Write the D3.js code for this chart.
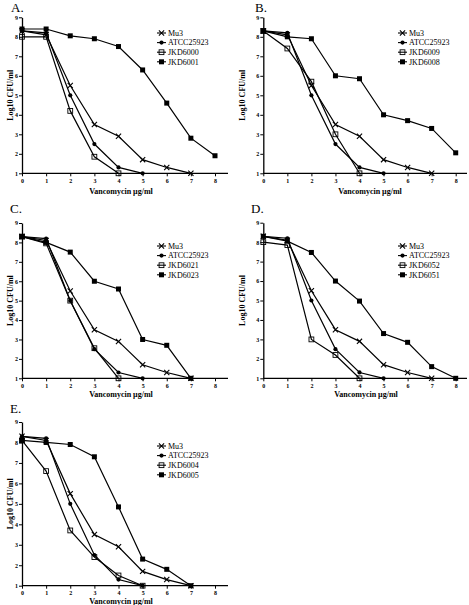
<!DOCTYPE html>
<html><head><meta charset="utf-8">
<script src="https://cdn.jsdelivr.net/npm/d3@7"></script>
<style>body{margin:0;background:#fff}svg{display:block}text{fill:#000}</style>
</head><body>
<svg id="c" width="469" height="605"></svg>
<script>
const doses = [0,1,2,3,4,5,6,7,8];
const yTicks = [1,2,3,4,5,6,7,8,9];
const seriesNames = ["Mu3","ATCC25923"];
const mu3 = [8.3,8.1,5.5,3.5,2.9,1.7,1.3,1.0];
const atcc = [8.3,8.2,5.0,2.5,1.3,1.0];
const panelTitles = ["A.","B.","C.","D.","E."];
const openNames = ["JKD6000","JKD6009","JKD6021","JKD6052","JKD6004"];
const filledNames = ["JKD6001","JKD6008","JKD6023","JKD6051","JKD6005"];
const openA = [8.0,8.0,4.2,1.85,1.0];
const filledA = [8.4,8.4,8.05,7.9,7.5,6.3,4.6,2.8,1.9];
const openB = [8.3,7.4,5.7,3.0,1.0];
const filledB = [8.3,8.0,7.9,6.0,5.85,4.0,3.7,3.3,2.05];
const openC = [8.3,7.95,5.0,2.55,1.0];
const filledC = [8.3,8.0,7.5,6.0,5.6,3.0,2.7,1.0];
const openD = [8.0,7.85,3.0,2.2,1.0];
const filledD = [8.3,8.05,7.47,6.0,4.97,3.3,2.85,1.6,1.0];
const openE = [8.1,6.6,3.7,2.4,1.5,1.0];
const filledE = [8.1,8.0,7.9,7.3,4.85,2.3,1.8,1.0];
const openVals = [openA,openB,openC,openD,openE];
const filledVals = [filledA,filledB,filledC,filledD,filledE];

// layout per panel
const layout = [
 {x0:22, x8:215, xe:228, y9:17.3, y1:173.3, tx:11, ty:12, lx:157, ly:33, xlx:121, xly:194, ylx:13},
 {x0:263.3, x8:455.7, xe:467, y9:17.3, y1:173.3, tx:255, ty:12, lx:398, ly:33, xlx:370, xly:194, ylx:245},
 {x0:22, x8:215, xe:228, y9:223, y1:378.3, tx:10, ty:213, lx:157, ly:246, xlx:121, xly:397, ylx:13},
 {x0:263.3, x8:455.7, xe:467, y9:222.7, y1:378.3, tx:251, ty:213, lx:398, ly:246, xlx:366, xly:397, ylx:245},
 {x0:22, x8:215, xe:228, y9:422, y1:585.7, tx:10, ty:413, lx:157, ly:446, xlx:121, xly:604, ylx:13}
];

const svg = d3.select("#c");
const FONT = "'Liberation Serif','Times New Roman',serif";

function marker(g, type, x, y){
  if(type==="x"){
    const s=2.6;
    g.append("path").attr("d",`M${x-s},${y-s}L${x+s},${y+s}M${x-s},${y+s}L${x+s},${y-s}`)
      .attr("stroke","#000").attr("stroke-width",1.1).attr("fill","none");
  } else if(type==="dot"){
    g.append("circle").attr("cx",x).attr("cy",y).attr("r",2.1).attr("fill","#000");
  } else if(type==="open"){
    g.append("rect").attr("x",x-2.4).attr("y",y-2.4).attr("width",4.8).attr("height",4.8)
      .attr("fill","none").attr("stroke","#000").attr("stroke-width",0.9);
  } else {
    g.append("rect").attr("x",x-2.5).attr("y",y-2.5).attr("width",5).attr("height",5).attr("fill","#000");
  }
}

layout.forEach((L,i)=>{
  const g = svg.append("g");
  const x = d3.scaleLinear().domain([0,8]).range([L.x0,L.x8]);
  const y = d3.scaleLinear().domain([1,9]).range([L.y1,L.y9]);

  const xa = g.append("g").attr("transform",`translate(0,${L.y1})`)
    .call(d3.axisBottom(x).tickValues(doses).tickSize(3).tickSizeOuter(0).tickPadding(2));
  xa.select(".domain").remove();
  xa.append("line").attr("x1",L.x0).attr("x2",L.xe).attr("y1",0).attr("y2",0).attr("stroke","#000").attr("stroke-width",1.3);
  const ya = g.append("g").attr("transform",`translate(${L.x0},0)`)
    .call(d3.axisLeft(y).tickValues(yTicks).tickSize(3).tickSizeOuter(0).tickPadding(1));
  ya.select(".domain").attr("stroke-width",1.3);
  g.selectAll(".tick text").attr("font-family",FONT).attr("font-size",6).attr("font-weight","bold").attr("fill","#000");
  g.selectAll(".tick line").attr("stroke","#000");

  // labels
  g.append("text").attr("x",L.tx).attr("y",L.ty).text(panelTitles[i])
    .attr("font-family",FONT).attr("font-size",13).attr("fill","#000");
  g.append("text").attr("x",L.xlx).attr("y",L.xly).attr("text-anchor","middle").text("Vancomycin µg/ml")
    .attr("font-family",FONT).attr("font-size",8).attr("font-weight","bold").attr("fill","#000");
  g.append("text").attr("transform",`translate(${L.ylx},${(L.y1+L.y9)/2}) rotate(-90)`).attr("text-anchor","middle")
    .text("Log10 CFU/ml").attr("font-family",FONT).attr("font-size",8).attr("font-weight","bold").attr("fill","#000");

  const series = [
    {name:seriesNames[0], vals:mu3, type:"x"},
    {name:seriesNames[1], vals:atcc, type:"dot"},
    {name:openNames[i], vals:openVals[i], type:"open"},
    {name:filledNames[i], vals:filledVals[i], type:"filled"}
  ];
  const line = d3.line().x((d,k)=>x(doses[k])).y(d=>y(d));
  series.forEach(s=>{
    g.append("path").attr("d",line(s.vals)).attr("fill","none").attr("stroke","#000").attr("stroke-width",1.2);
  });
  series.forEach(s=>{
    s.vals.forEach((v,k)=>marker(g,s.type,x(doses[k]),y(v)));
  });
  // legend
  series.forEach((s,k)=>{
    const ly = L.ly + k*9.6;
    g.append("line").attr("x1",L.lx).attr("x2",L.lx+9).attr("y1",ly).attr("y2",ly).attr("stroke","#000").attr("stroke-width",1.1);
    marker(g,s.type,L.lx+4.5,ly);
    g.append("text").attr("x",L.lx+11).attr("y",ly+2.8).text(s.name)
      .attr("font-family",FONT).attr("font-size",8).attr("fill","#000");
  });
});
</script>
</body></html>
